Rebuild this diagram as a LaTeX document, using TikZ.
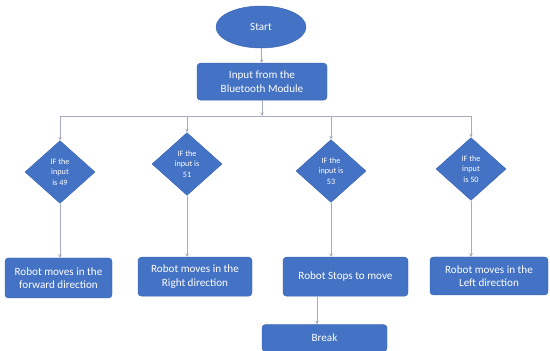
\documentclass[tikz,border=0pt]{standalone}
\usepackage{fontspec}
\setmainfont{Carlito}
\usetikzlibrary{shapes.geometric,arrows.meta}

\definecolor{boxblue}{HTML}{4472C4}
\definecolor{boxedge}{HTML}{3A64B0}
\definecolor{linegray}{RGB}{165,172,188}

\tikzset{
  block/.style={rectangle, rounded corners=3pt, fill=boxblue, draw=boxedge, text=white,
    align=center, font=\fontsize{9.5}{11.5}\selectfont, inner sep=1pt},
  decide/.style={diamond, fill=boxblue, draw=boxedge, text=white, align=center,
    font=\fontsize{7}{9}\selectfont, inner sep=0pt, minimum width=2.1cm, minimum height=1.88cm},
  flow/.style={draw=linegray, line width=0.8pt, -{Stealth[length=3pt,width=3pt]}},
  bus/.style={draw=linegray, line width=0.8pt}
}

\begin{document}
\begin{tikzpicture}

\useasboundingbox (0,0) rectangle (16.5,10.5);

\node [ellipse, fill=boxblue, draw=boxedge, text=white, font=\fontsize{9.5}{11.5}\selectfont,
  minimum width=2.7cm, minimum height=1.26cm] (start) at (7.83,9.69) {Start};
\node [block, minimum width=3.9cm, minimum height=1.11cm] (input) at (7.86,8.05)
  {Input from the\\Bluetooth Module};

\coordinate (hub) at (7.86,7.02);
\coordinate (busL) at (1.8,7.02);
\coordinate (busR) at (14.13,7.02);

\node [decide] (if49) at (1.8,5.34) {IF the\\input\\is 49};
\node [decide] (if51) at (5.61,5.58) {IF the\\input is\\51};
\node [decide] (if53) at (9.93,5.37) {IF the\\input is\\53};
\node [decide] (if50) at (14.13,5.43) {IF the\\input\\is 50};

\node [block, minimum width=3.21cm, minimum height=1.2cm] (fwd) at (1.755,2.16)
  {Robot moves in the\\forward direction};
\node [block, minimum width=3.42cm, minimum height=1.17cm] (right) at (5.85,2.2)
  {Robot moves in the\\Right direction};
\node [block, minimum width=3.75cm, minimum height=1.17cm] (stop) at (10.365,2.2)
  {Robot Stops to move};
\node [block, minimum width=3.54cm, minimum height=1.14cm] (left) at (14.67,2.22)
  {Robot moves in the\\Left direction};
\node [block, minimum width=3.75cm, minimum height=0.81cm] (brk) at (9.735,0.36) {Break};

\draw [flow] (start) -- (input);
\draw [flow] (input) -- (hub);
\draw [bus] (busL) -- (busR);

\draw [flow] (busL) -- (if49.north);
\draw [flow] (if51.north |- hub) -- (if51.north);
\draw [flow] (if53.north |- hub) -- (if53.north);
\draw [flow] (busR) -- (if50.north);

\draw [flow] (if49.south) -- (if49.south |- fwd.north);
\draw [flow] (if51.south) -- (if51.south |- right.north);
\draw [flow] (if53.south) -- (if53.south |- stop.north);
\draw [flow] (if50.south) -- (if50.south |- left.north);

\coordinate (drop) at ([xshift=-0.855cm]stop.south);
\draw [flow] (drop) -- (drop |- brk.north);

\end{tikzpicture}
\end{document}
